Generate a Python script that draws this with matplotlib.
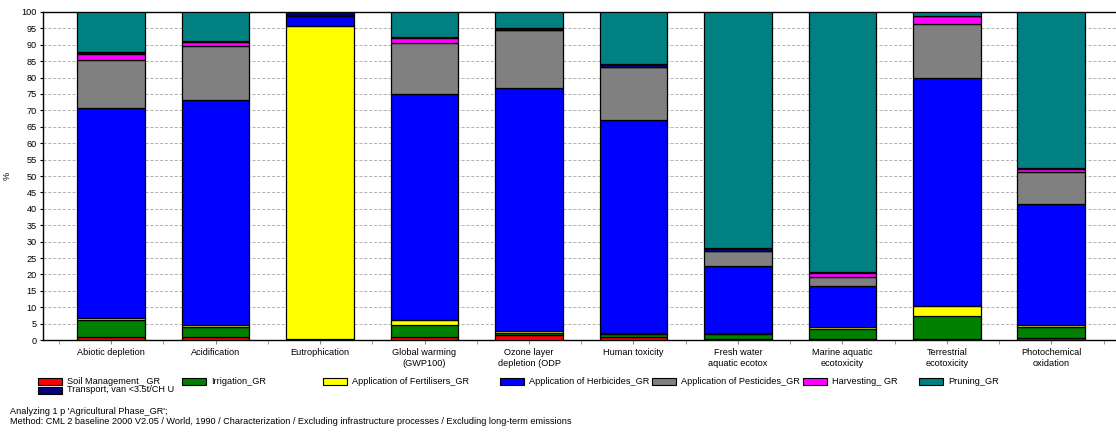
import matplotlib
matplotlib.use("Agg")
import matplotlib.pyplot as plt
from matplotlib.patches import Rectangle
import numpy as np

plt.rcParams['font.family'] = ['Liberation Sans', 'DejaVu Sans']

categories = [
    "Abiotic depletion", "Acidification", "Eutrophication",
    "Global warming\n(GWP100)", "Ozone layer\ndepletion (ODP", "Human toxicity",
    "Fresh water\naquatic ecotox", "Marine aquatic\necotoxicity",
    "Terrestrial\necotoxicity", "Photochemical\noxidation",
]

# Percent contribution of each process, stacked bottom to top
soil_management = [1.0, 1.0, 0.2, 1.0, 1.4, 0.8, 0.2, 0.3, 0.4, 0.7]
irrigation      = [5.0, 2.9, 0.2, 3.7, 0.6, 1.0, 1.6, 3.0, 6.9, 3.3]
fertilisers     = [0.7, 0.6, 95.3, 1.4, 0.6, 0.3, 0.2, 0.7, 3.0, 0.5]
herbicides      = [63.9, 68.8, 3.2, 68.8, 74.3, 64.9, 20.5, 12.5, 69.6, 36.9]
pesticides      = [14.8, 16.3, 0.1, 15.8, 17.5, 16.1, 4.6, 2.8, 16.3, 9.7]
harvesting      = [1.8, 1.2, 0.0, 1.3, 0.2, 0.1, 0.1, 1.0, 2.5, 1.1]
transport       = [0.5, 0.3, 1.0, 0.3, 0.5, 0.9, 0.8, 0.3, 0.2, 0.3]
pruning         = [12.3, 8.9, 0.0, 7.7, 4.9, 15.9, 72.0, 79.4, 1.1, 47.5]

series_names = [
    "Soil Management_ GR", "Irrigation_GR", "Application of Fertilisers_GR",
    "Application of Herbicides_GR", "Application of Pesticides_GR",
    "Harvesting_ GR", "Transport, van <3.5t/CH U", "Pruning_GR",
]
series_values = [soil_management, irrigation, fertilisers, herbicides,
                 pesticides, harvesting, transport, pruning]
series_colors = ["#ff0000", "#008000", "#ffff00", "#0000ff",
                 "#808080", "#ff00ff", "#000080", "#008080"]

y_ticks = list(range(0, 101, 5))

FS = 6.6
W, H = 1116, 432
fig = plt.figure(figsize=(W / 100, H / 100), dpi=100)
ax_left, ax_right = 42.5, 1120
ax = fig.add_axes([ax_left / W, (H - 340) / H, (ax_right - ax_left) / W, 328 / H])

x = np.arange(len(categories))
bottom = np.zeros(len(categories))
for vals, color in zip(series_values, series_colors):
    vals = np.asarray(vals, dtype=float)
    ax.bar(x, vals, width=0.65, bottom=bottom, color=color,
           edgecolor="black", linewidth=0.9, zorder=3)
    bottom += vals

ax.set_xlim(-0.656, 9.656)
ax.set_ylim(0, 100)
ax.set_yticks(y_ticks)
ax.set_yticklabels([str(t) for t in y_ticks], fontsize=FS)
ax.set_xticks(x)
ax.set_xticklabels(categories, fontsize=FS, linespacing=1.2)
ax.set_xticks(np.arange(-0.5, 9.6, 1.0), minor=True)
ax.tick_params(axis="x", which="both", length=3, color="#888888", pad=3)
ax.tick_params(axis="y", length=2, pad=2, color="black")
ax.set_ylabel("%", fontsize=FS)
ax.yaxis.set_label_coords((12 - ax_left) / (ax_right - ax_left), 0.5)

ax.grid(axis="y", linestyle=(0, (3, 2)), color="#b0b0b0", linewidth=0.7, zorder=0)
for s in ["left", "bottom", "top"]:
    ax.spines[s].set_color("black")
    ax.spines[s].set_linewidth(1.0)
ax.spines["right"].set_visible(False)

# Legend laid out in two rows under the axes
legend_slots = [(38, 381), (182, 381), (323, 381), (500, 381),
                (652, 381), (803, 381), (38, 390), (919, 381)]
for name, color, (lx, ly) in zip(series_names, series_colors, legend_slots):
    fig.patches.append(Rectangle((lx / W, 1 - (ly + 3.5) / H), 24 / W, 7 / H,
                                 transform=fig.transFigure, facecolor=color,
                                 edgecolor="black", linewidth=0.8))
    fig.text((lx + 29) / W, 1 - ly / H, name, fontsize=FS, va="center", ha="left")

fig.text(10 / W, 1 - 411 / H, "Analyzing 1 p 'Agricultural Phase_GR';",
         fontsize=FS, va="center", ha="left")
fig.text(10 / W, 1 - 421 / H,
         "Method: CML 2 baseline 2000 V2.05 / World, 1990 / Characterization / "
         "Excluding infrastructure processes / Excluding long-term emissions",
         fontsize=FS, va="center", ha="left")

fig.savefig("out.png", dpi=100)
